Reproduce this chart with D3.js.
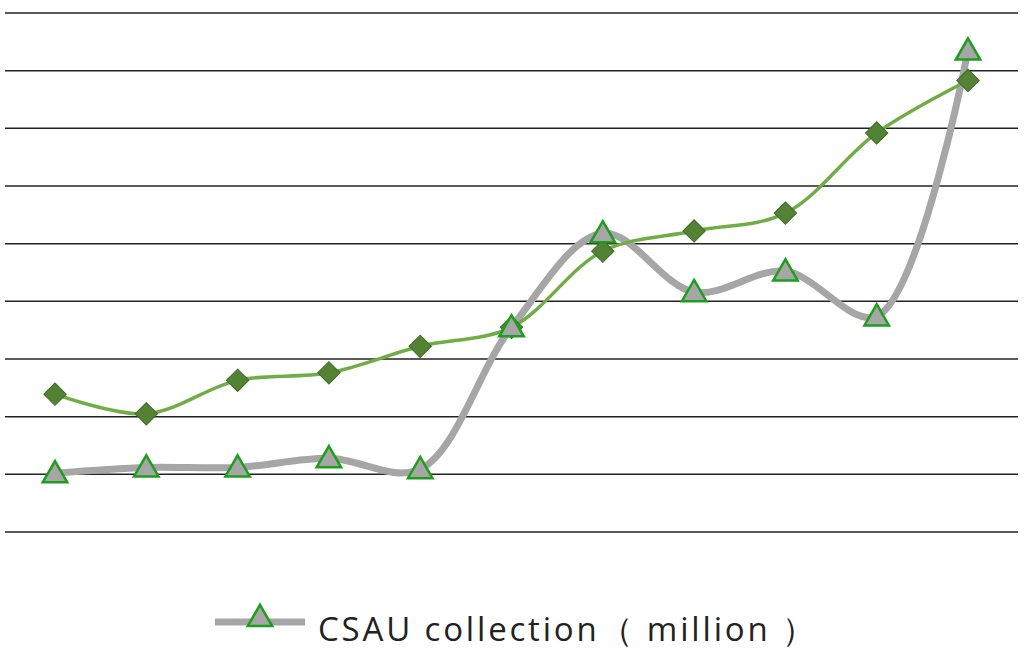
<!DOCTYPE html>
<html><head><meta charset="utf-8">
<script src="https://cdn.jsdelivr.net/npm/d3@7"></script>
<style>body{margin:0;background:#fff}</style></head>
<body><svg id="c" width="1024" height="654"></svg>
<script>
const categories = [1,2,3,4,5,6,7,8,9,10,11];
const csau = [1.02,1.12,1.12,1.28,1.09,3.55,5.18,4.16,4.52,3.74,8.35];
const other = [2.39,2.05,2.63,2.76,3.22,3.55,4.87,5.22,5.53,6.92,7.83];
const gridTicks = [0,1,2,3,4,5,6,7,8,9];
const legendLabel = "CSAU collection（ million ）";

const svg = d3.select("#c");
const x = d3.scalePoint().domain(categories).range([55,968]);
const y = d3.scaleLinear().domain([0,9]).range([532,13]);

svg.append("g").selectAll("line").data(gridTicks).join("line")
  .attr("x1",5).attr("x2",1018).attr("y1",d=>y(d)).attr("y2",d=>y(d))
  .attr("stroke","#222").attr("stroke-width",1.5);

const line = d3.line().x((d,i)=>x(categories[i])).y(d=>y(d)).curve(d3.curveCatmullRom.alpha(0.5));

svg.append("path").attr("d",line(csau)).attr("fill","none").attr("stroke","#a6a6a6").attr("stroke-width",7);
svg.append("path").attr("d",line(other)).attr("fill","none").attr("stroke","#70ad47").attr("stroke-width",3.5);

const tri = d3.symbol().type(d3.symbolTriangle).size(260);
const sq = d3.symbol().type(d3.symbolSquare).size(250);

svg.append("g").selectAll("path").data(other).join("path")
  .attr("d",sq).attr("transform",(d,i)=>`translate(${x(categories[i])},${y(d)}) rotate(45)`)
  .attr("fill","#548235").attr("stroke","#3d6b26").attr("stroke-width",1);
svg.append("g").selectAll("path").data(csau).join("path")
  .attr("d",tri).attr("transform",(d,i)=>`translate(${x(categories[i])},${y(d)+2})`)
  .attr("fill","#a6a6a6").attr("stroke","#1e9e1e").attr("stroke-width",2.5);

const lg = svg.append("g");
lg.append("line").attr("x1",215).attr("x2",305).attr("y1",622).attr("y2",622).attr("stroke","#a6a6a6").attr("stroke-width",7);
lg.append("path").attr("d",tri).attr("transform","translate(260,619)").attr("fill","#a6a6a6").attr("stroke","#1e9e1e").attr("stroke-width",2.5);
lg.append("text").attr("x",318).attr("y",641).attr("font-family","Open Sans, sans-serif").attr("font-size",33)
  .attr("textLength",497).attr("lengthAdjust","spacing").attr("fill","#222").text(legendLabel);
</script></body></html>
